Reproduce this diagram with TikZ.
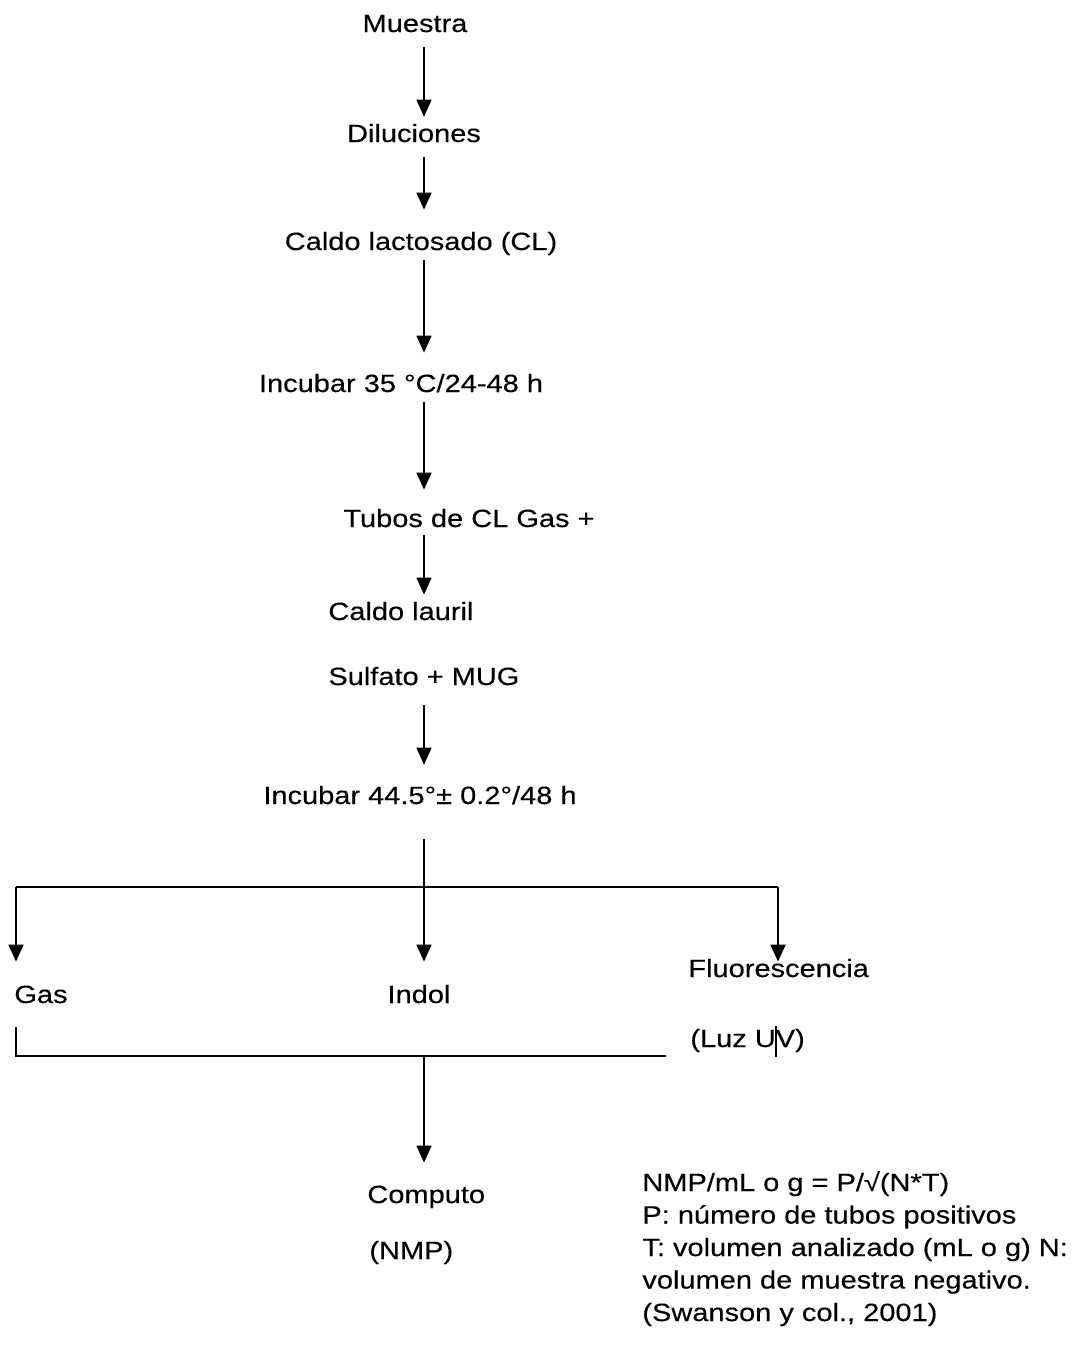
\documentclass[tikz,border=0pt]{standalone}
\usepackage{fontspec}
\setmainfont{Liberation Sans}[FakeStretch=1.16, FakeBold=0.3]
\usepackage{tikz}
\usetikzlibrary{arrows.meta, positioning}

\begin{document}
\begin{tikzpicture}[
		x=0.5pt,
		y=-0.5pt,
		every node/.style={
				font=\fontsize{12.5}{15}\selectfont,
				inner sep=0pt,
				text height=9pt,  % Height above the baseline
				text depth=2.5pt  % Depth below the baseline
			},
		linea/.style={line width=0.9pt},
		flecha/.style={linea, -{Triangle[width=7.5pt, length=8.5pt]}}
	]
	\useasboundingbox (0, 0) rectangle (1089, 1350);

	% eje de las flechas centrales
	\coordinate (eje) at (424, 0);

	\node[anchor=base] (muestra) at (415, 32) {Muestra};
	\node[anchor=base] (diluciones) at (414, 142) {Diluciones};
	\node[anchor=base] (caldolac) at (421, 250) {Caldo lactosado (CL)};
	\node[anchor=base] (incubar1) at (401, 392) {Incubar 35 °C/24-48 h};
	\node[anchor=base] (tubos) at (469, 527) {Tubos de CL Gas +};
	\node[anchor=base west] (lauril) at (328, 620) {Caldo lauril};
	\node[anchor=base west] (sulfato) at (328, 685) {Sulfato + MUG};
	\node[anchor=base] (incubar2) at (420, 804) {Incubar 44.5°± 0.2°/48 h};

	\node[anchor=base west] (gas) at (14, 1003) {Gas};
	\node[anchor=base] (indol) at (419, 1003) {Indol};
	\node[anchor=base west] (fluor) at (688, 977) {Fluorescencia};
	\node[anchor=base west] (luz) at (690, 1047) {(Luz UV)};

	\node[anchor=base west] (computo) at (367, 1203) {Computo};
	\node[anchor=base west] (nmp) at (369, 1259) {(NMP)};

	\node[anchor=base west] (formula) at (642, 1191) {NMP/mL o g = P/√(N*T)};
	\node[anchor=base west] (ptubos) at (642, 1223.5) {P: número de tubos positivos};
	\node[anchor=base west] (tvol) at (642, 1256) {T: volumen analizado (mL o g) N:};
	\node[anchor=base west] (nvol) at (642, 1288.5) {volumen de muestra negativo.};
	\node[anchor=base west] (cita) at (642, 1321) {(Swanson y col., 2001)};

	\draw[flecha, shorten <=5pt, shorten >=3.5pt] (muestra.south -| eje) -- (diluciones.north -| eje);
	\draw[flecha, shorten <=5pt, shorten >=11pt] (diluciones.south -| eje) -- (caldolac.north -| eje);
	\draw[flecha, shorten <=2.5pt, shorten >=10.5pt] (caldolac.south -| eje) -- (incubar1.north -| eje);
	\draw[flecha, shorten <=2.5pt, shorten >=9.5pt] (incubar1.south -| eje) -- (tubos.north -| eje);
	\draw[flecha, shorten <=1.5pt, shorten >=3.5pt] (tubos.south -| eje) -- (lauril.north -| eje);
	\draw[flecha, shorten <=7.5pt, shorten >=10.5pt] (sulfato.south -| eje) -- (incubar2.north -| eje);

	% reparto en tres ramas
	\coordinate (izq) at (16, 887);
	\coordinate (der) at (778, 887);
	\draw[linea] (izq) -- (der);
	\draw[flecha, shorten <=15pt, shorten >=11.5pt] (incubar2.south -| eje) -- (indol.north -| eje);
	\draw[flecha, shorten >=11.5pt] (izq) -- (izq |- gas.north);
	\draw[flecha, shorten >=-1.5pt] (der) -- (der |- fluor.north);

	% union hacia el computo
	\coordinate (abajo) at (16, 1056);
	\coordinate (fin) at (666, 1056);
	\draw[linea, shorten <=9.5pt] (gas.south -| abajo) -- (abajo) -- (fin);
	\draw[flecha, shorten >=11pt] (abajo -| eje) -- (computo.north -| eje);

	% trazo suelto sobre UV
	\draw[linea] (776, 1026) -- (776, 1057);

\end{tikzpicture}
\end{document}
